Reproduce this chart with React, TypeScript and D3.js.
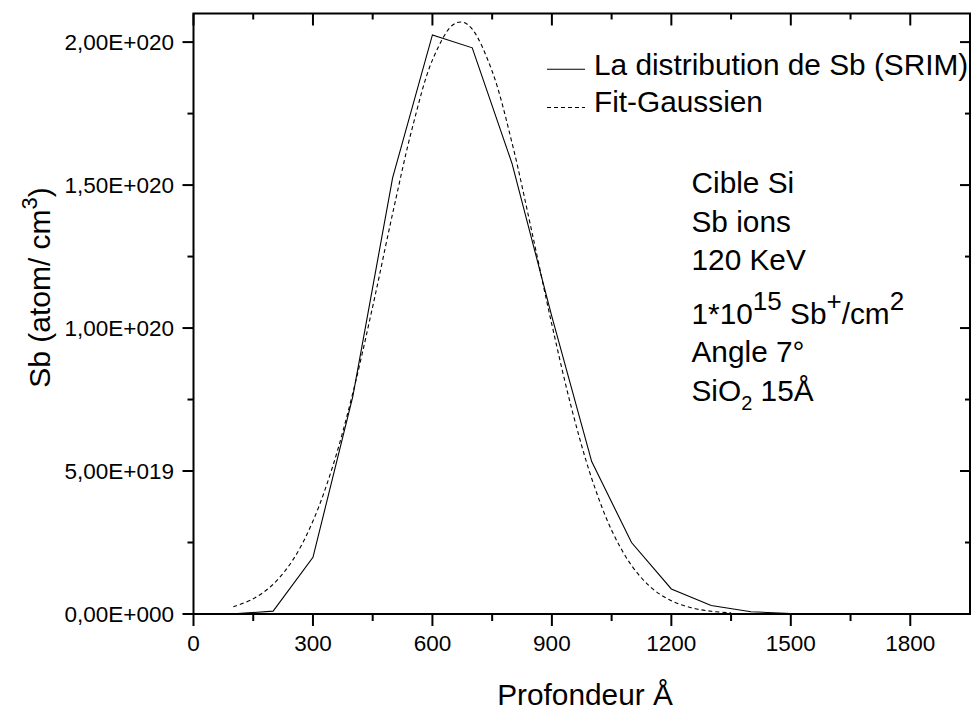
import React from "react";
import * as d3 from "d3";

// SRIM distribution (depth in Å, concentration in atom/cm3)
const srimDepth = [100, 200, 300, 400, 500, 600, 700, 800, 900, 1000, 1100, 1200, 1300, 1400, 1500, 1600];
const srimValues = [0.0005e20, 0.01e20, 0.198e20, 0.76e20, 1.525e20, 2.025e20, 1.98e20, 1.575e20, 1.04e20, 0.533e20, 0.25e20, 0.0875e20, 0.03e20, 0.008e20, 0.002e20, 0.0005e20];

// Gaussian fit
const fitDepth = [100, 150, 200, 250, 300, 350, 400, 450, 500, 550, 600, 650, 675, 700, 750, 800, 850, 900, 950, 1000, 1050, 1100, 1150, 1200, 1250, 1300, 1350];
const fitValues = [0.0255e20, 0.0533e20, 0.104e20, 0.19e20, 0.325e20, 0.518e20, 0.772e20, 1.075e20, 1.4e20, 1.703e20, 1.937e20, 2.059e20, 2.07e20, 2.045e20, 1.898e20, 1.647e20, 1.335e20, 1.012e20, 0.7165e20, 0.474e20, 0.293e20, 0.17e20, 0.0915e20, 0.0463e20, 0.0218e20, 0.0096e20, 0.004e20];

const xTicks = [0, 300, 600, 900, 1200, 1500, 1800];
const xMinorTicks = [150, 450, 750, 1050, 1350, 1650];
const yTicks = [0, 0.5e20, 1.0e20, 1.5e20, 2.0e20];
const yTickLabels = ["0,00E+000", "5,00E+019", "1,00E+020", "1,50E+020", "2,00E+020"];
const yMinorTicks = [0.25e20, 0.75e20, 1.25e20, 1.75e20];

const legendLabels = ["La distribution de Sb (SRIM)", "Fit-Gaussien"];
const annotationLines = ["Cible Si", "Sb ions", "120 KeV"];

const W = 972;
const H = 711;
const L = 193.5;
const R = 970;
const T = 13.5;
const B = 614;
const FONT = "'Liberation Sans', Arial, Helvetica, sans-serif";

export default function App() {
  const x = d3.scaleLinear().domain([0, 1950]).range([L, R]);
  const y = d3.scaleLinear().domain([0, 2.1e20]).range([B, T]);

  const srimLine = d3
    .line<number>()
    .x((_, i) => x(srimDepth[i]))
    .y((d) => y(d));
  const fitLine = d3
    .line<number>()
    .x((_, i) => x(fitDepth[i]))
    .y((d) => y(d))
    .curve(d3.curveCatmullRom.alpha(0.5));

  const big = 29.8;
  const tickFont = 22.5;

  return (
    <svg
      width={W}
      height={H}
      style={{ position: "absolute", left: 0, top: 0, background: "#fff" }}
      fontFamily={FONT}
    >
      <rect x={0} y={0} width={W} height={H} fill="#fff" />
      <defs>
        <clipPath id="plotclip">
          <rect x={L} y={T} width={R - L} height={B - T} />
        </clipPath>
      </defs>

      {/* data */}
      <g clipPath="url(#plotclip)">
        <path d={fitLine(fitValues) || ""} fill="none" stroke="#000" strokeWidth={1.1} strokeDasharray="4,3" />
        <path d={srimLine(srimValues) || ""} fill="none" stroke="#000" strokeWidth={1.1} />
      </g>

      {/* frame */}
      <rect x={L} y={T} width={R - L} height={B - T} fill="none" stroke="#000" strokeWidth={2} />

      {/* bottom ticks (outward) and top ticks (inward) */}
      {xTicks.map((t) => (
        <g key={"xt" + t}>
          <line x1={x(t)} x2={x(t)} y1={B} y2={B + 12} stroke="#000" strokeWidth={2} />
          <line x1={x(t)} x2={x(t)} y1={T} y2={T + 12} stroke="#000" strokeWidth={2} />
          <text x={x(t)} y={650.8} fontSize={tickFont} textAnchor="middle" fill="#000">
            {t}
          </text>
        </g>
      ))}
      {xMinorTicks.map((t) => (
        <g key={"xm" + t}>
          <line x1={x(t)} x2={x(t)} y1={B} y2={B + 7} stroke="#000" strokeWidth={2} />
          <line x1={x(t)} x2={x(t)} y1={T} y2={T + 6} stroke="#000" strokeWidth={2} />
        </g>
      ))}

      {/* left ticks (outward) and right ticks (inward) */}
      {yTicks.map((t, i) => (
        <g key={"yt" + t}>
          <line x1={L - 11} x2={L} y1={y(t)} y2={y(t)} stroke="#000" strokeWidth={2} />
          <line x1={R - 10} x2={R} y1={y(t)} y2={y(t)} stroke="#000" strokeWidth={2} />
          <text x={174} y={y(t) + 7.8} fontSize={tickFont} textAnchor="end" fill="#000">
            {yTickLabels[i]}
          </text>
        </g>
      ))}
      {yMinorTicks.map((t) => (
        <g key={"ym" + t}>
          <line x1={L - 6} x2={L} y1={y(t)} y2={y(t)} stroke="#000" strokeWidth={2} />
          <line x1={R - 5} x2={R} y1={y(t)} y2={y(t)} stroke="#000" strokeWidth={2} />
        </g>
      ))}

      {/* axis titles */}
      <text x={585} y={705} fontSize={big} textAnchor="middle" fill="#000">
        Profondeur Å
      </text>
      <text transform="translate(50,287.5) rotate(-90)" fontSize={30} textAnchor="middle" fill="#000">
        Sb (atom/ cm
        <tspan fontSize={22} dy={-13}>3</tspan>
        <tspan dy={13}>)</tspan>
      </text>

      {/* legend */}
      <line x1={547} x2={585} y1={69.3} y2={69.3} stroke="#000" strokeWidth={1.1} />
      <text x={594} y={75} fontSize={big} fill="#000">
        {legendLabels[0]}
      </text>
      <line x1={547} x2={585} y1={107.5} y2={107.5} stroke="#000" strokeWidth={1.1} strokeDasharray="4,3" />
      <text x={594} y={112} fontSize={big} fill="#000">
        {legendLabels[1]}
      </text>

      {/* annotation */}
      {annotationLines.map((s, i) => (
        <text key={s} x={691.5} y={193.3 + i * 38.3} fontSize={big} fill="#000">
          {s}
        </text>
      ))}
      <text x={691.5} y={324.3} fontSize={big} fill="#000">
        1*10
        <tspan fontSize={26} dy={-14}>15</tspan>
        <tspan dy={14}> Sb</tspan>
        <tspan fontSize={26} dy={-14}>+</tspan>
        <tspan dy={14}>/cm</tspan>
        <tspan fontSize={26} dy={-14}>2</tspan>
      </text>
      <text x={691.5} y={361.7} fontSize={big} fill="#000">
        Angle 7°
      </text>
      <text x={691.5} y={400.5} fontSize={big} fill="#000">
        SiO
        <tspan fontSize={20} dy={9}>2</tspan>
        <tspan dy={-9}> 15Å</tspan>
      </text>
    </svg>
  );
}
